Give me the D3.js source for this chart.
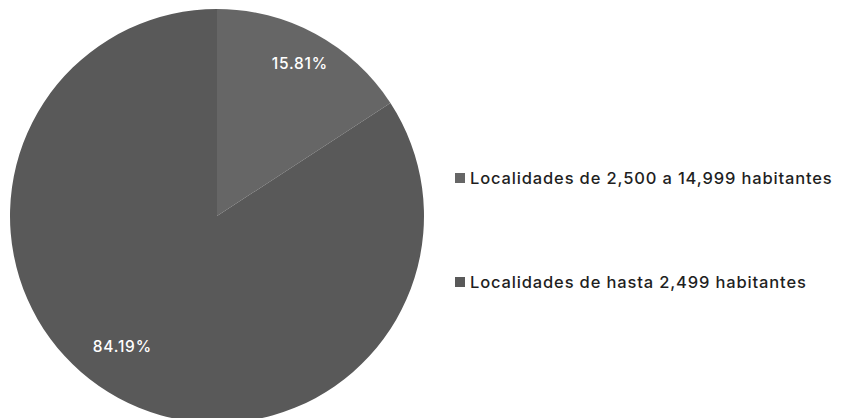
<!DOCTYPE html>
<html>
<head>
<meta charset="utf-8">
<script src="https://cdn.jsdelivr.net/npm/d3@7"></script>
<style>
  html, body { margin: 0; padding: 0; background: #ffffff; }
  svg { display: block; }
  text { font-family: Inter, "Noto Sans", sans-serif; }
</style>
</head>
<body>
<svg id="chart" width="841" height="418"></svg>
<script>
// Distribución de la población por tamaño de localidad
const categories = [
  "Localidades de 2,500 a 14,999 habitantes",
  "Localidades de hasta 2,499 habitantes"
];
const shares = [15.81, 84.19];
const sliceColors = ["#666666", "#595959"];

const width = 841, height = 418;
const cx = 217, cy = 216, radius = 207;

const svg = d3.select("#chart");

const data = categories.map((c, i) => ({ name: c, value: shares[i], color: sliceColors[i] }));

const pie = d3.pie().sort(null).value(d => d.value);
const arcs = pie(data);
const arc = d3.arc().innerRadius(0).outerRadius(radius);

const g = svg.append("g").attr("transform", `translate(${cx},${cy})`);

g.selectAll("path.slice")
  .data(arcs)
  .join("path")
  .attr("class", "slice")
  .attr("d", arc)
  .attr("fill", d => d.data.color);

// Data labels: placed inside each slice, shifted toward the open area for the large slice
const labelPlacement = [
  { r: 0.84, shift: 0 },
  { r: 0.78, shift: 0.13 }
];
g.selectAll("text.value")
  .data(arcs)
  .join("text")
  .attr("class", "value")
  .attr("transform", (d, i) => {
    const a = (d.startAngle + d.endAngle) / 2 + labelPlacement[i].shift;
    const rr = radius * labelPlacement[i].r;
    return `translate(${rr * Math.sin(a)},${-rr * Math.cos(a)})`;
  })
  .attr("text-anchor", "middle")
  .attr("dy", "0.35em")
  .attr("fill", "#ffffff")
  .attr("font-size", 15.5)
  .attr("font-weight", 500)
  .attr("letter-spacing", 0.8)
  .text(d => d3.format(".2f")(d.data.value) + "%");

// Legend
const legendY = d3.scalePoint().domain(categories).range([178, 282]);
const legend = svg.append("g").attr("transform", "translate(455,0)");
const item = legend.selectAll("g.item")
  .data(data)
  .join("g")
  .attr("class", "item")
  .attr("transform", d => `translate(0,${legendY(d.name)})`);
item.append("rect")
  .attr("x", 0).attr("y", -5)
  .attr("width", 10).attr("height", 10)
  .attr("fill", d => d.color);
item.append("text")
  .attr("x", 15)
  .attr("dy", "0.36em")
  .attr("fill", "#1f1f1f")
  .attr("font-size", 16.5)
  .attr("font-weight", 500)
  .attr("letter-spacing", 0.85)
  .text(d => d.name);
</script>
</body>
</html>
